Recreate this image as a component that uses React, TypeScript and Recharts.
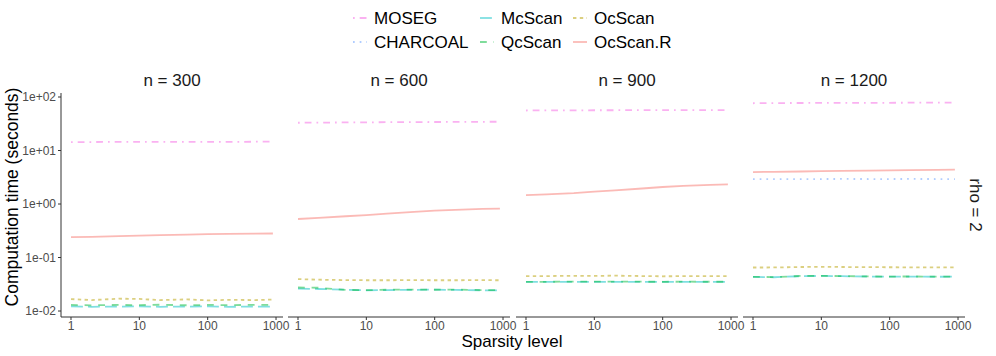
import { Line, LineChart, XAxis, YAxis } from 'recharts';

// sparsity levels on the x axis (same for every panel)
const sparsity = [1, 2, 5, 10, 20, 50, 100, 200, 500, 900];
const panelTitles = ['n = 300', 'n = 600', 'n = 900', 'n = 1200'];
const xTicks = [1, 10, 100, 1000];
const yTicks = [0.01, 0.1, 1, 10, 100];

// computation time (seconds), one inner array per panel (n = 300, 600, 900, 1200)
const mosegTimes = [
  [14.4, 14.4, 14.5, 14.5, 14.5, 14.5, 14.5, 14.5, 14.6, 14.6],
  [33.0, 33.2, 33.5, 33.6, 33.8, 34.0, 34.1, 34.2, 34.4, 34.5],
  [56.0, 56.2, 56.4, 56.5, 56.6, 56.7, 56.8, 56.9, 57.0, 57.0],
  [76.5, 77.0, 77.3, 77.5, 77.6, 77.8, 78.0, 78.2, 78.3, 78.4],
];
const charcoalTimes = [
  null,
  null,
  null,
  [2.92, 2.93, 2.93, 2.93, 2.94, 2.93, 2.93, 2.94, 2.93, 2.93],
];
const mcscanTimes = [
  [0.0122, 0.012, 0.0121, 0.0122, 0.012, 0.0121, 0.0122, 0.012, 0.0121, 0.0121],
  [0.0262, 0.0258, 0.025, 0.0244, 0.0246, 0.0249, 0.0251, 0.0248, 0.0244, 0.0243],
  [0.035, 0.0351, 0.0352, 0.0351, 0.0352, 0.035, 0.0351, 0.035, 0.0351, 0.0351],
  [0.0434, 0.0428, 0.0448, 0.0452, 0.0447, 0.0441, 0.0438, 0.044, 0.0437, 0.0438],
];
const qcscanTimes = [
  [0.013, 0.0128, 0.013, 0.0129, 0.0131, 0.0128, 0.013, 0.0129, 0.013, 0.013],
  [0.0275, 0.0272, 0.0248, 0.0245, 0.025, 0.0252, 0.025, 0.0252, 0.0246, 0.0245],
  [0.0352, 0.0352, 0.0354, 0.0353, 0.0355, 0.0353, 0.0352, 0.0353, 0.0352, 0.0353],
  [0.0436, 0.043, 0.0452, 0.0455, 0.045, 0.0443, 0.044, 0.0442, 0.044, 0.0441],
];
const ocscanTimes = [
  [0.0167, 0.016, 0.017, 0.0168, 0.016, 0.0165, 0.0158, 0.0162, 0.016, 0.0164],
  [0.0395, 0.0385, 0.0378, 0.0376, 0.0376, 0.0377, 0.0376, 0.0376, 0.0377, 0.0376],
  [0.0448, 0.045, 0.0455, 0.0452, 0.0458, 0.045, 0.0446, 0.0448, 0.0449, 0.045],
  [0.065, 0.0652, 0.0665, 0.0668, 0.0665, 0.066, 0.0658, 0.0655, 0.0655, 0.0656],
];
const ocscanRTimes = [
  [0.24, 0.244, 0.25, 0.256, 0.262, 0.268, 0.273, 0.277, 0.28, 0.281],
  [0.525, 0.55, 0.59, 0.62, 0.66, 0.71, 0.75, 0.78, 0.81, 0.82],
  [1.47, 1.52, 1.6, 1.7, 1.8, 1.95, 2.08, 2.18, 2.28, 2.32],
  [3.96, 4.0, 4.05, 4.1, 4.15, 4.2, 4.25, 4.3, 4.35, 4.38],
];

const series = [
  { key: 'MOSEG', color: '#F564E3', dash: '1.7 5 6.8 5', values: mosegTimes },
  { key: 'CHARCOAL', color: '#619CFF', dash: '1.7 5', values: charcoalTimes },
  { key: 'McScan', color: '#00BFC4', dash: '11.9 5.1', values: mcscanTimes },
  { key: 'QcScan', color: '#00BA38', dash: '6.8 6.8', values: qcscanTimes },
  { key: 'OcScan', color: '#B79F00', dash: '3.4 3.4', values: ocscanTimes },
  { key: 'OcScan.R', color: '#F8766D', dash: undefined, values: ocscanRTimes },
];

const FONT = '"Liberation Sans", Arial, Helvetica, sans-serif';
const PANEL_LEFT = [61, 288, 516, 743];
const PANEL_W = 222;
const PLOT_TOP = 93;
const PLOT_H = 224;
const PAD_TOP = 10;
const X_DOMAIN = [0.714, 1265];
const Y_DOMAIN = [0.00773, 118.8];

function sci(v: number): string {
  return v.toExponential(0).replace(/e([+-])(\d)$/, 'e$10$2');
}

function panelRows(i: number) {
  return sparsity.map((s, j) => {
    const row: Record<string, number | null> = { s };
    series.forEach((se) => {
      const arr = se.values[i];
      row[se.key] = arr ? arr[j] : null;
    });
    return row;
  });
}

function Panel({ index }: { index: number }) {
  const first = index === 0;
  const yw = first ? 61 : 0;
  return (
    <div style={{ position: 'absolute', left: PANEL_LEFT[index] - yw, top: PLOT_TOP - PAD_TOP }}>
      <LineChart
        width={yw + PANEL_W + 14}
        height={PAD_TOP + PLOT_H + 22}
        data={panelRows(index)}
        margin={{ top: PAD_TOP, right: 14, bottom: 0, left: 0 }}
      >
        <XAxis
          dataKey="s"
          type="number"
          scale="log"
          domain={X_DOMAIN}
          allowDataOverflow
          ticks={xTicks}
          interval={0}
          height={22}
          tickSize={3}
          tickMargin={1}
          axisLine={{ stroke: '#333333' }}
          tickLine={{ stroke: '#333333' }}
          tick={{ fill: '#4D4D4D', fontSize: 12 }}
        />
        <YAxis
          type="number"
          scale="log"
          domain={Y_DOMAIN}
          allowDataOverflow
          ticks={yTicks}
          interval={0}
          hide={!first}
          width={yw}
          tickSize={3}
          tickMargin={2}
          tickFormatter={(v) => sci(Number(v))}
          axisLine={{ stroke: '#333333' }}
          tickLine={{ stroke: '#333333' }}
          tick={{ fill: '#4D4D4D', fontSize: 12 }}
        />
        {series.map((se) => (
          <Line
            key={se.key}
            dataKey={se.key}
            type="linear"
            stroke={se.color}
            strokeOpacity={0.5}
            strokeWidth={1.8}
            strokeDasharray={se.dash}
            dot={false}
            activeDot={false}
            isAnimationActive={false}
          />
        ))}
      </LineChart>
    </div>
  );
}

const legendPos = [
  { x: 353, y: 18 },
  { x: 353, y: 42 },
  { x: 480, y: 18 },
  { x: 480, y: 42 },
  { x: 573, y: 18 },
  { x: 573, y: 42 },
];

export default function App() {
  return (
    <div
      style={{
        position: 'absolute',
        left: 0,
        top: 0,
        width: 996,
        height: 356,
        background: '#ffffff',
        fontFamily: FONT,
      }}
    >
      <svg width={996} height={356} style={{ position: 'absolute', left: 0, top: 0 }}>
        {series.map((se, k) => (
          <g key={se.key}>
            <line
              x1={legendPos[k].x}
              x2={legendPos[k].x + 14}
              y1={legendPos[k].y}
              y2={legendPos[k].y}
              stroke={se.color}
              strokeOpacity={0.5}
              strokeWidth={1.8}
              strokeDasharray={se.dash}
            />
            <text
              x={legendPos[k].x + 21}
              y={legendPos[k].y}
              dominantBaseline="central"
              fontSize={17}
              fill="#000000"
            >
              {se.key}
            </text>
          </g>
        ))}
        {panelTitles.map((t, i) => (
          <text
            key={t}
            x={PANEL_LEFT[i] + PANEL_W / 2}
            y={80}
            textAnchor="middle"
            dominantBaseline="central"
            fontSize={17}
            fill="#1A1A1A"
          >
            {t}
          </text>
        ))}
        <text
          x={975}
          y={205}
          textAnchor="middle"
          dominantBaseline="central"
          fontSize={17}
          fill="#1A1A1A"
          transform="rotate(90 975 205)"
        >
          rho = 2
        </text>
        <text
          x={12}
          y={197}
          textAnchor="middle"
          dominantBaseline="central"
          fontSize={17.5}
          fill="#000000"
          transform="rotate(-90 12 197)"
        >
          Computation time (seconds)
        </text>
        <text
          x={512}
          y={341}
          textAnchor="middle"
          dominantBaseline="central"
          fontSize={17}
          fill="#000000"
        >
          Sparsity level
        </text>
      </svg>
      {panelTitles.map((t, i) => (
        <Panel key={t} index={i} />
      ))}
    </div>
  );
}
